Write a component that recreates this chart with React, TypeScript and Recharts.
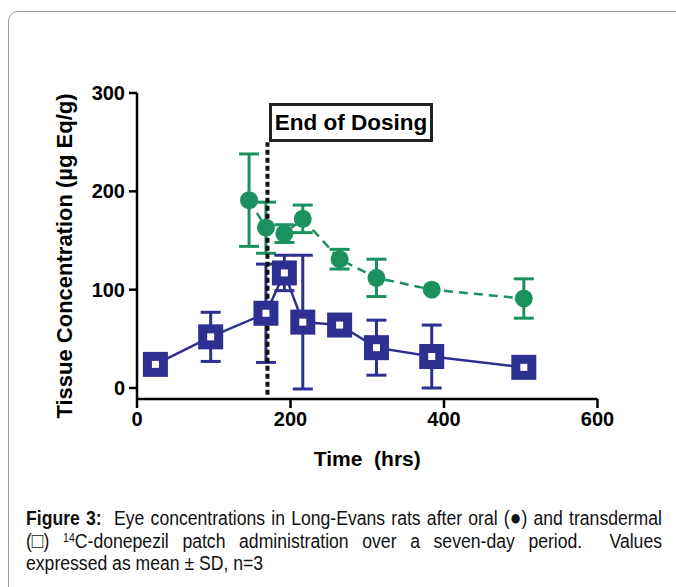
import React from 'react';
import {
  ScatterChart,
  Scatter,
  XAxis,
  YAxis,
  ErrorBar,
  ReferenceLine,
} from 'recharts';

// oral dosing (filled circles); null = error bar hidden behind the symbol
const oralHours = [146, 168, 192, 216, 264, 312, 384, 504];
const oralMean = [191, 163, 157, 172, 131, 112, 100, 91];
const oralSd = [47, 26, 9, 14, 10, 19, null, 20];

// transdermal patch (open squares)
const patchHours = [24, 96, 168, 192, 216, 264, 312, 384, 504];
const patchMean = [24, 52, 76, 117, 67, 64, 41, 32, 21];
const patchSd = [null, 25, 50, 18, 68, null, 28, 32, null];

const xTicks = [0, 200, 400, 600];
const yTicks = [0, 100, 200, 300];
const endOfDosing = 170;

const GREEN = '#1b9160';
const BLUE = '#2d2f91';
const FONT = "'Liberation Sans', Arial, Helvetica, sans-serif";

const oralData = oralHours.map((x, i) => ({ x, y: oralMean[i], sd: oralSd[i] }));
const patchData = patchHours.map((x, i) => ({ x, y: patchMean[i], sd: patchSd[i] }));

const tickStyle = { fill: '#000', fontSize: 20, fontWeight: 700, fontFamily: FONT };

function Dot(props: any) {
  const { cx, cy } = props;
  return <circle cx={cx} cy={cy} r={9} fill={GREEN} />;
}

function Box(props: any) {
  const { cx, cy } = props;
  return (
    <rect x={cx - 8} y={cy - 8} width={16} height={16} fill="#fff" stroke={BLUE} strokeWidth={9} />
  );
}

// narrow caption text: regular sans squeezed horizontally
const SQUEEZE = 0.88;
const lineStyle: React.CSSProperties = {
  textAlign: 'justify',
  textAlignLast: 'justify',
  whiteSpace: 'nowrap',
  height: 22.5,
};
const glyph: React.CSSProperties = {
  display: 'inline-block',
  fontSize: 22,
  lineHeight: '18px',
  height: 18,
};

export default function App() {
  return (
    <div
      style={{
        position: 'fixed',
        left: 0,
        top: 0,
        width: 676,
        height: 587,
        overflow: 'hidden',
        background: '#fff',
        fontFamily: FONT,
      }}
    >
      <div
        style={{
          position: 'absolute',
          left: 8,
          top: 11,
          width: 720,
          height: 640,
          border: '1px solid #9a9a9a',
          borderRadius: 10,
        }}
      />
      <div style={{ position: 'absolute', left: 0, top: 0 }}>
        <ScatterChart
          width={676}
          height={480}
          margin={{ top: 93, right: 78.5, bottom: 41, left: 77 }}
        >
          <XAxis
            type="number"
            dataKey="x"
            domain={[0, 600]}
            ticks={xTicks}
            tick={tickStyle}
            tickSize={9}
            tickMargin={4}
            height={40}
            axisLine={{ stroke: '#000', strokeWidth: 2.5 }}
            tickLine={{ stroke: '#000', strokeWidth: 2.5 }}
            label={{
              value: 'Time\u00a0 (hrs)',
              position: 'bottom',
              offset: 12,
              fill: '#000',
              fontSize: 21,
              fontWeight: 700,
              fontFamily: FONT,
            }}
          />
          <YAxis
            type="number"
            dataKey="y"
            domain={[-11.2, 300]}
            ticks={yTicks}
            tick={tickStyle}
            tickSize={8}
            tickMargin={4}
            width={60}
            axisLine={{ stroke: '#000', strokeWidth: 2.5 }}
            tickLine={{ stroke: '#000', strokeWidth: 2.5 }}
          />
          <Scatter
            data={oralData}
            shape={Dot}
            isAnimationActive={false}
            line={{ stroke: GREEN, strokeWidth: 2.5, strokeDasharray: '9 6' }}
          >
            <ErrorBar dataKey="sd" direction="y" width={10} stroke={GREEN} strokeWidth={3} />
          </Scatter>
          <Scatter
            data={patchData}
            shape={Box}
            isAnimationActive={false}
            line={{ stroke: BLUE, strokeWidth: 2.5 }}
          >
            <ErrorBar dataKey="sd" direction="y" width={10} stroke={BLUE} strokeWidth={3} />
          </Scatter>
          <ReferenceLine
            segment={[
              { x: endOfDosing, y: -7 },
              { x: endOfDosing, y: 250 },
            ]}
            stroke="#111"
            strokeWidth={4}
            strokeDasharray="5 3"
          />
        </ScatterChart>
      </div>

      <div
        style={{
          position: 'absolute',
          left: 269,
          top: 103,
          width: 158,
          height: 33,
          border: '3px solid #222',
          fontSize: 22.5,
          fontWeight: 700,
          lineHeight: '33px',
          textAlign: 'center',
          color: '#000',
        }}
      >
        End of Dosing
      </div>

      <div
        style={{
          position: 'absolute',
          left: 65,
          top: 256,
          transform: 'translate(-50%, -50%) rotate(-90deg)',
          whiteSpace: 'nowrap',
          fontSize: 22,
          fontWeight: 700,
          color: '#000',
        }}
      >
        Tissue Concentration (µg Eq/g)
      </div>

      <div
        style={{
          position: 'absolute',
          left: 26,
          top: 507,
          width: 636 / SQUEEZE,
          transform: `scaleX(${SQUEEZE})`,
          transformOrigin: 'left top',
          fontSize: 20,
          lineHeight: '22.5px',
          color: '#111',
        }}
      >
        <div style={lineStyle}>
          <b>Figure 3:</b>&nbsp; Eye concentrations in Long-Evans rats after oral (<span style={glyph}>●</span>) and transdermal
        </div>
        <div style={lineStyle}>
          (<span style={glyph}>□</span>) <sup style={{ fontSize: 12, verticalAlign: 'top', lineHeight: '16px' }}>14</sup>C-donepezil patch administration over a seven-day period.&nbsp; Values
        </div>
        <div style={{ height: 22.5 }}>expressed as mean ± SD, n=3</div>
      </div>
    </div>
  );
}
